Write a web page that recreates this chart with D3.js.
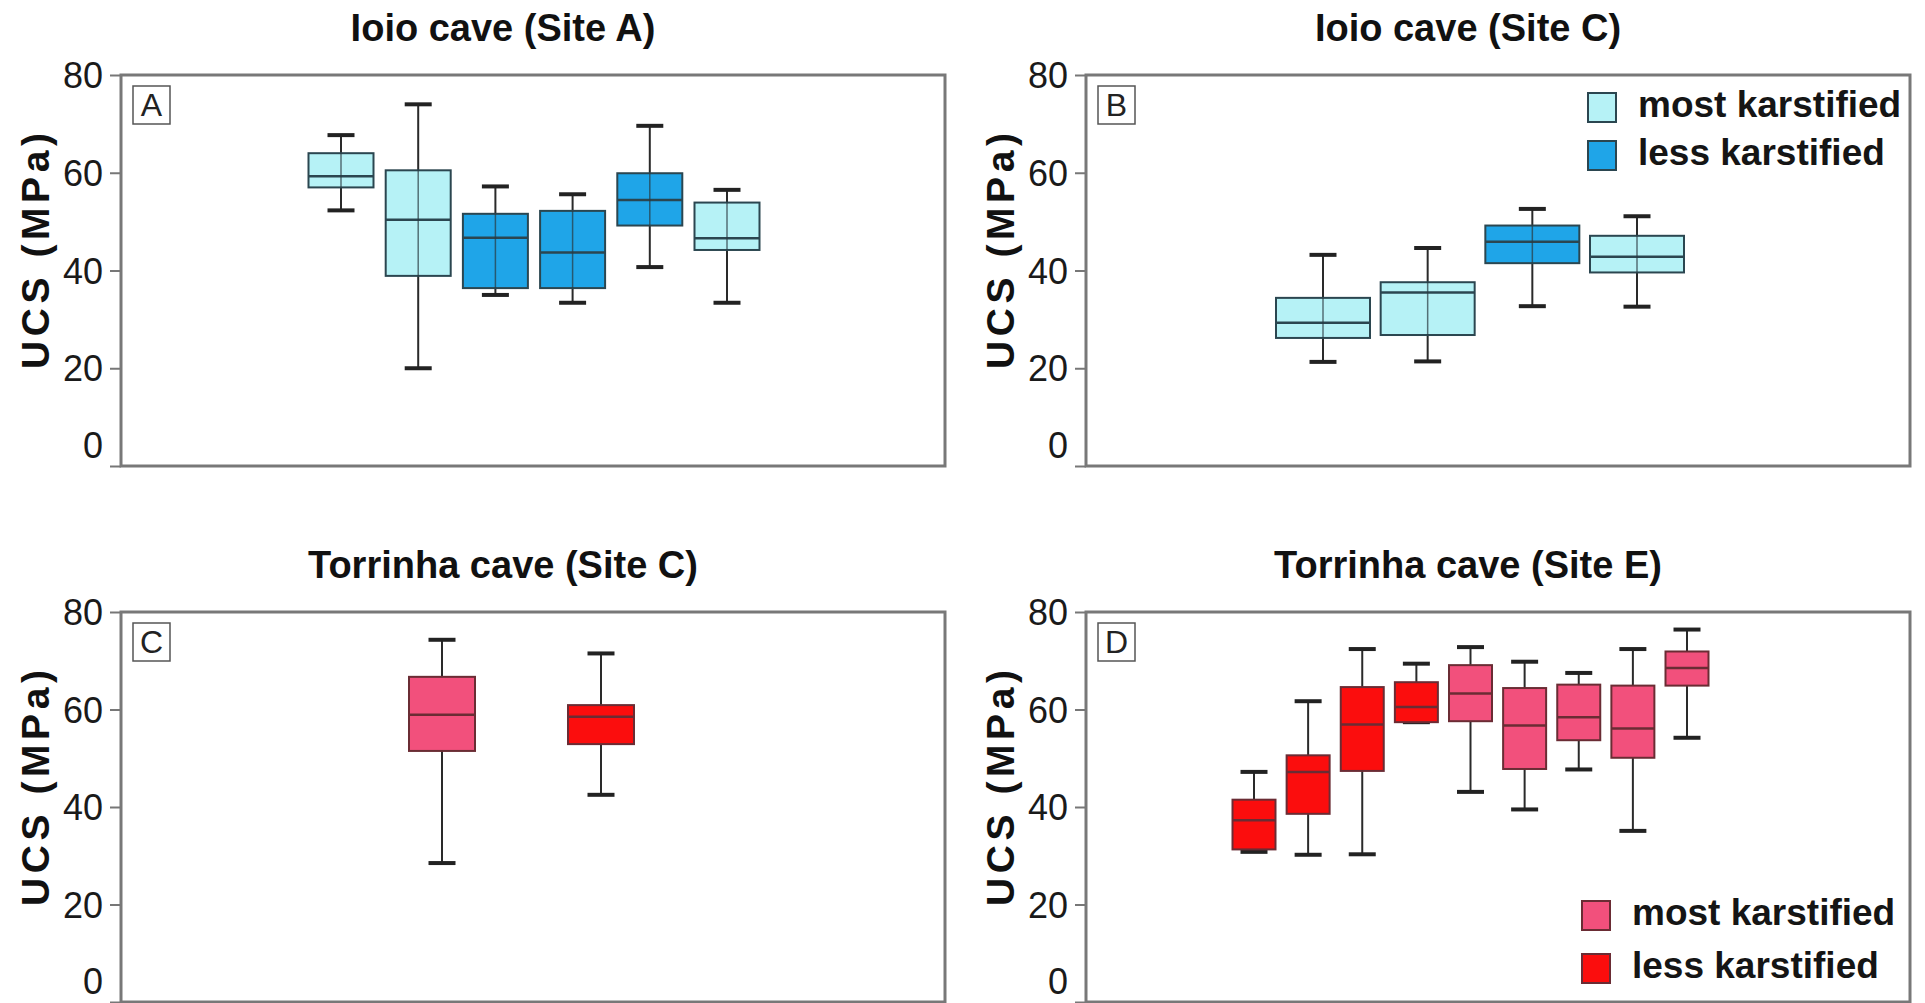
<!DOCTYPE html>
<html>
<head>
<meta charset="utf-8">
<script src="https://cdn.jsdelivr.net/npm/d3@7"></script>
<style>
  body { margin: 0; background: #fff; }
  svg { display: block; font-family: "Liberation Sans", Arial, sans-serif; }
</style>
</head>
<body>
<svg width="1925" height="1003"></svg>
<script>
const yTicks = [0, 20, 40, 60, 80];
const legendLabels = ['most karstified', 'less karstified'];

// Ioio cave (Site A)
const aKarst = ['most', 'most', 'less', 'less', 'less', 'most'];
const aMin = [52.3, 20.0, 35.0, 33.4, 40.7, 33.4];
const aQ1  = [57.0, 38.9, 36.4, 36.4, 49.2, 44.2];
const aMed = [59.3, 50.4, 46.7, 43.7, 54.4, 46.6];
const aQ3  = [64.0, 60.5, 51.6, 52.2, 59.9, 53.9];
const aMax = [67.7, 74.0, 57.2, 55.6, 69.6, 56.5];

// Ioio cave (Site C)
const bKarst = ['most', 'most', 'less', 'most'];
const bMin = [21.3, 21.4, 32.7, 32.6];
const bQ1  = [26.2, 26.8, 41.5, 39.6];
const bMed = [29.3, 35.5, 45.9, 42.8];
const bQ3  = [34.4, 37.6, 49.2, 47.1];
const bMax = [43.2, 44.6, 52.6, 51.1];

// Torrinha cave (Site C)
const cKarst = ['most', 'less'];
const cMin = [28.5, 42.5];
const cQ1  = [51.5, 52.9];
const cMed = [58.9, 58.5];
const cQ3  = [66.7, 60.9];
const cMax = [74.3, 71.5];

// Torrinha cave (Site E)
const dKarst = ['less', 'less', 'less', 'less', 'most', 'most', 'most', 'most', 'most'];
const dMin = [30.8, 30.2, 30.3, 57.4, 43.1, 39.5, 47.7, 35.1, 54.2];
const dQ1  = [31.3, 38.6, 47.4, 57.4, 57.6, 47.8, 53.7, 50.1, 64.9];
const dMed = [37.3, 47.2, 56.9, 60.5, 63.3, 56.7, 58.4, 56.1, 68.5];
const dQ3  = [41.5, 50.6, 64.6, 65.6, 69.1, 64.4, 65.1, 64.9, 71.9];
const dMax = [47.2, 61.7, 72.4, 69.4, 72.8, 69.8, 67.5, 72.4, 76.4];

const blueColors = { most: '#b6f2f6', less: '#1fa5e8' };
const redColors = { most: '#f2507c', less: '#fb0d0d' };

const svg = d3.select('svg');

const zip = (k, lo, q1, md, q3, hi) => k.map((d, i) => ({
    karst: d, min: lo[i], q1: q1[i], med: md[i], q3: q3[i], max: hi[i]
}));

const panels = [
    { title: 'Ioio cave (Site A)', letter: 'A', data: zip(aKarst, aMin, aQ1, aMed, aQ3, aMax),
      colors: blueColors, stroke: '#2b4650', x0: 121, x1: 945, y0: 75, y1: 466,
      c0: 341, c1: 727, bw: 65, legend: null },
    { title: 'Ioio cave (Site C)', letter: 'B', data: zip(bKarst, bMin, bQ1, bMed, bQ3, bMax),
      colors: blueColors, stroke: '#2b4650', x0: 1086, x1: 1910, y0: 75, y1: 466,
      c0: 1323, c1: 1637, bw: 94, legend: { x: 1588, y: 91, gap: 48 } },
    { title: 'Torrinha cave (Site C)', letter: 'C', data: zip(cKarst, cMin, cQ1, cMed, cQ3, cMax),
      colors: redColors, stroke: '#6a2c34', x0: 121, x1: 945, y0: 612, y1: 1002,
      c0: 442, c1: 601, bw: 66, legend: null },
    { title: 'Torrinha cave (Site E)', letter: 'D', data: zip(dKarst, dMin, dQ1, dMed, dQ3, dMax),
      colors: redColors, stroke: '#6a2c34', x0: 1086, x1: 1910, y0: 612, y1: 1002,
      c0: 1254, c1: 1687, bw: 43, legend: { x: 1582, y: 899, gap: 53 } }
];

panels.forEach(p => {
    const g = svg.append('g');
    const y = d3.scaleLinear().domain([0, 80]).range([p.y1, p.y0]);
    const x = d3.scalePoint().domain(d3.range(p.data.length)).range([p.c0, p.c1]);

    // title
    g.append('text')
        .attr('x', (p.x0 + p.x1) / 2 - 30)
        .attr('y', p.y0 - 34)
        .attr('text-anchor', 'middle')
        .attr('font-size', 38)
        .attr('font-weight', 'bold')
        .attr('fill', '#111')
        .text(p.title);

    // y axis label
    g.append('text')
        .attr('transform', `translate(${p.x0 - 86},${p.y0 + 176}) rotate(-90)`)
        .attr('text-anchor', 'middle')
        .attr('dy', '0.36em')
        .attr('font-size', 39)
        .attr('font-weight', 'bold')
        .attr('textLength', 236)
        .attr('lengthAdjust', 'spacing')
        .attr('fill', '#111')
        .text('UCS (MPa)');

    // y axis
    const axis = g.append('g')
        .attr('transform', `translate(${p.x0},0)`)
        .call(d3.axisLeft(y).tickValues(yTicks).tickSize(11).tickPadding(7).tickFormat(d3.format('d')));
    axis.select('.domain').remove();
    axis.selectAll('.tick line').attr('stroke', '#777').attr('stroke-width', 2);
    axis.selectAll('.tick text')
        .attr('font-size', 36)
        .attr('font-family', '"Liberation Sans", Arial, sans-serif')
        .attr('fill', '#1a1a1a')
        .attr('dy', d => d === 0 ? '-0.24em' : '0.35em');

    // frame
    g.append('rect')
        .attr('x', p.x0).attr('y', p.y0)
        .attr('width', p.x1 - p.x0).attr('height', p.y1 - p.y0)
        .attr('fill', 'none').attr('stroke', '#787878').attr('stroke-width', 3);

    // panel letter
    g.append('rect')
        .attr('x', p.x0 + 12).attr('y', p.y0 + 11)
        .attr('width', 37).attr('height', 38)
        .attr('fill', 'none').attr('stroke', '#555').attr('stroke-width', 1.5);
    g.append('text')
        .attr('x', p.x0 + 30.5).attr('y', p.y0 + 41)
        .attr('text-anchor', 'middle')
        .attr('font-size', 32)
        .attr('fill', '#222')
        .text(p.letter);

    // boxes
    const box = g.selectAll('g.box').data(p.data).join('g').attr('class', 'box');
    const capW = 27;
    box.append('line')
        .attr('x1', (d, i) => x(i)).attr('x2', (d, i) => x(i))
        .attr('y1', d => y(d.max)).attr('y2', d => y(d.min))
        .attr('stroke', '#2a2a2a').attr('stroke-width', 2);
    box.append('line')
        .attr('x1', (d, i) => x(i) - capW / 2).attr('x2', (d, i) => x(i) + capW / 2)
        .attr('y1', d => y(d.max)).attr('y2', d => y(d.max))
        .attr('stroke', '#222').attr('stroke-width', 4);
    box.append('line')
        .attr('x1', (d, i) => x(i) - capW / 2).attr('x2', (d, i) => x(i) + capW / 2)
        .attr('y1', d => y(d.min)).attr('y2', d => y(d.min))
        .attr('stroke', '#222').attr('stroke-width', 4);
    box.append('rect')
        .attr('x', (d, i) => x(i) - p.bw / 2)
        .attr('y', d => y(d.q3))
        .attr('width', p.bw)
        .attr('height', d => y(d.q1) - y(d.q3))
        .attr('fill', d => p.colors[d.karst])
        .attr('stroke', p.stroke).attr('stroke-width', 2);
    box.append('line')
        .attr('x1', (d, i) => x(i) - p.bw / 2).attr('x2', (d, i) => x(i) + p.bw / 2)
        .attr('y1', d => y(d.med)).attr('y2', d => y(d.med))
        .attr('stroke', p.stroke).attr('stroke-width', 2.5);
    // whisker line visible through the blue boxes
    box.filter(d => p.colors === blueColors).append('line')
        .attr('x1', (d, i) => x(i)).attr('x2', (d, i) => x(i))
        .attr('y1', d => y(d.q3)).attr('y2', d => y(d.q1))
        .attr('stroke', '#2a3a40').attr('stroke-width', 1.5).attr('opacity', 0.7);

    // legend
    if (p.legend) {
        const lg = g.append('g').attr('transform', `translate(${p.legend.x},${p.legend.y})`);
        ['most', 'less'].forEach((k, i) => {
            lg.append('rect')
                .attr('x', 0).attr('y', i * p.legend.gap + 2)
                .attr('width', 28).attr('height', 29)
                .attr('fill', p.colors[k])
                .attr('stroke', p.stroke).attr('stroke-width', 2);
            lg.append('text')
                .attr('x', 50).attr('y', i * p.legend.gap + 13)
                .attr('dy', '0.35em')
                .attr('font-size', 37)
                .attr('font-weight', 'bold')
                .attr('fill', '#151515')
                .text(legendLabels[i]);
        });
    }
});
</script>
</body>
</html>
